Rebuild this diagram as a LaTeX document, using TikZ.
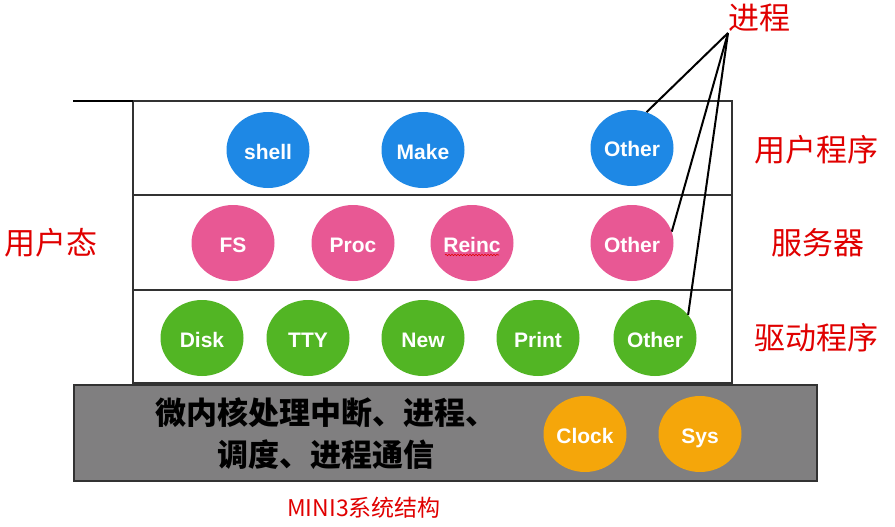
\documentclass[tikz,border=0pt]{standalone}
\usepackage{fontspec}
\setmainfont{Liberation Sans}
\newfontfamily\cjk{Noto Sans CJK SC}
\usetikzlibrary{shapes.geometric,decorations.pathmorphing}
\definecolor{cblue}{RGB}{30,136,229}
\definecolor{cpink}{RGB}{232,88,148}
\definecolor{cgreen}{RGB}{82,181,36}
\definecolor{corange}{RGB}{245,166,10}
\definecolor{cgray}{RGB}{128,127,128}
\definecolor{cred}{RGB}{224,0,0}
\definecolor{cframe}{RGB}{50,50,50}
\begin{document}
\begin{tikzpicture}[x=1pt,y=-1pt,
  blob/.style={ellipse, minimum width=83pt, minimum height=76pt, inner sep=0pt,
    text=white, font=\bfseries\fontsize{21}{24}\selectfont,
    text height=20pt, text depth=2pt},
  ublob/.style={blob, fill=cblue},
  sblob/.style={blob, fill=cpink},
  dblob/.style={blob, fill=cgreen},
  kblob/.style={blob, fill=corange},
  redlabel/.style={text=cred, font=\cjk\fontsize{31}{34}\selectfont, inner sep=0pt},
  frameline/.style={draw=cframe, line width=1.3pt},
  link/.style={draw=black, line width=2pt},
]
\useasboundingbox[fill=white] (0,0) rectangle (895,527);

% layers
\draw[frameline] (133,101) rectangle (732,383);
\draw[frameline] (133,195) -- (732,195);
\draw[frameline] (133,290) -- (732,290);
\draw[frameline, fill=cgray] (74,385) rectangle (817,481);
\draw[draw=black, line width=2.5pt] (73,101) -- (133,101);

% user programs
\node[ublob] (sh) at (268,150) {shell};
\node[ublob] (mk) at (423,150) {Make};
\node[ublob] (uo) at (632,148) {Other};

% servers
\node[sblob] (fs) at (233,243) {FS};
\node[sblob] (pr) at (353,243) {Proc};
\node[sblob] (ri) at (472,243) {Reinc};
\node[sblob] (so) at (632,243) {Other};
\draw[cred, line width=0.6pt, decorate, decoration={snake, amplitude=0.7pt, segment length=3pt}]
  ([xshift=-27pt,yshift=-12pt]ri.center) -- ([xshift=27pt,yshift=-12pt]ri.center);

% drivers
\node[dblob] (dk) at (202,338) {Disk};
\node[dblob] (tt) at (308,338) {TTY};
\node[dblob] (nw) at (423,338) {New};
\node[dblob] (pt) at (538,338) {Print};
\node[dblob] (go) at (655,338) {Other};

% kernel
\node[kblob] (ck) at (585,434) {Clock};
\node[kblob] (sy) at (700,434) {Sys};
\node[font=\cjk\bfseries\fontsize{31}{42}\selectfont, align=center, text=black] (kt) at (326,434)
  {微内核处理中断、进程、\\调度、进程通信};

% labels
\node[redlabel] (jc) at (759,18) {进程};
\node[redlabel] (yh) at (816,150) {用户程序};
\node[redlabel] (fw) at (818,243) {服务器};
\node[redlabel] (qd) at (816,338) {驱动程序};
\node[redlabel] (yt) at (51,243) {用户态};
\node[text=cred, font=\cjk\fontsize{23}{26}\selectfont] (cap) at (364,508) {MINI3系统结构};

% process links
\coordinate (apex) at (728,33);
\draw[link] (apex) -- (uo.68);
\draw[link] (apex) -- (so.16);
\draw[link] (apex) -- (go.35);
\end{tikzpicture}
\end{document}
